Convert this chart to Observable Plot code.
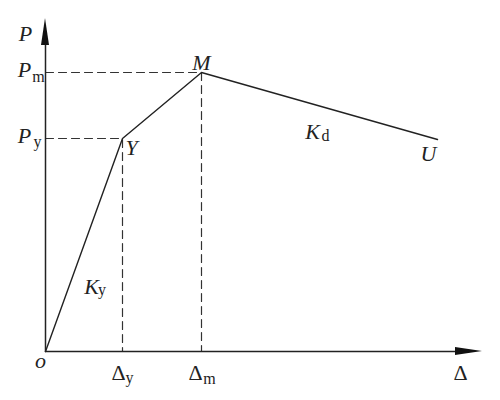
<!DOCTYPE html>
<html>
<head>
<meta charset="utf-8">
<script src="https://cdn.jsdelivr.net/npm/d3@7"></script>
<script src="https://cdn.jsdelivr.net/npm/@observablehq/plot@0.6"></script>
<style>
  body { margin: 0; background: #fff; }
  svg { font-family: "Liberation Serif", "DejaVu Serif", serif; }
</style>
</head>
<body>
<div id="chart"></div>
<script>
// Characteristic points of the trilinear skeleton curve (O, Y, M, U)
const pointNames = ["O", "Y", "M", "U"];
const displacement = [0, 77, 156, 392];
const load = [0, 213, 279, 212];
// Axis extents
const xAxisEnd = 437;
const yAxisEnd = 333;
// Arrow head size (data units)
const headLength = 27;
const headHalf = 4;

const pts = pointNames.map((n, i) => ({name: n, x: displacement[i], y: load[i]}));
const [O, Y, M, U] = pts;

const serif = "Liberation Serif";
const big = 22, small = 16;
const mainText = (d, txt, dx, dy, italic = true) =>
  Plot.text([d], {x: "x", y: "y", text: () => txt, dx, dy, fontSize: big,
    fontStyle: italic ? "italic" : "normal", fontFamily: serif, fill: "#222",
    textAnchor: "middle", lineAnchor: "middle"});
const subText = (d, txt, dx, dy) =>
  Plot.text([d], {x: "x", y: "y", text: () => txt, dx, dy, fontSize: small,
    fontFamily: serif, fill: "#222", textAnchor: "middle", lineAnchor: "middle"});

const mid = (a, b) => ({x: (a.x + b.x) / 2, y: (a.y + b.y) / 2});
const dash = "8,5";

const chart = Plot.plot({
  width: 500,
  height: 400,
  marginLeft: 45,
  marginRight: 18,
  marginTop: 18,
  marginBottom: 49,
  x: {domain: [0, xAxisEnd], axis: null},
  y: {domain: [0, yAxisEnd], axis: null},
  style: {background: "#fff", overflow: "visible"},
  marks: [
    // dashed guide lines
    Plot.line([{x: 0, y: Y.y}, Y, {x: Y.x, y: 0}], {x: "x", y: "y", stroke: "#333", strokeWidth: 1.2, strokeDasharray: dash}),
    Plot.line([{x: 0, y: M.y}, M, {x: M.x, y: 0}], {x: "x", y: "y", stroke: "#333", strokeWidth: 1.2, strokeDasharray: dash}),
    // axes
    Plot.line([{x: 0, y: 0}, {x: xAxisEnd - headLength / 2, y: 0}], {x: "x", y: "y", stroke: "#222", strokeWidth: 1.5}),
    Plot.line([{x: 0, y: 0}, {x: 0, y: yAxisEnd - headLength / 2}], {x: "x", y: "y", stroke: "#222", strokeWidth: 1.5}),
    // arrowheads
    Plot.areaY([{x: xAxisEnd - headLength, y1: -headHalf, y2: headHalf}, {x: xAxisEnd, y1: 0, y2: 0}],
      {x: "x", y1: "y1", y2: "y2", fill: "#111", curve: "linear"}),
    Plot.areaX([{y: yAxisEnd - headLength, x1: -headHalf, x2: headHalf}, {y: yAxisEnd, x1: 0, x2: 0}],
      {y: "y", x1: "x1", x2: "x2", fill: "#111", curve: "linear"}),
    // skeleton curve
    Plot.line(pts, {x: "x", y: "y", stroke: "#222", strokeWidth: 1.4}),
    // labels
    mainText({x: 0, y: yAxisEnd}, "P", -20, 15),
    mainText({x: 0, y: M.y}, "P", -21, -3), subText({x: 0, y: M.y}, "m", -7, 4),
    mainText({x: 0, y: Y.y}, "P", -21, -3), subText({x: 0, y: Y.y}, "y", -8, 3),
    mainText(M, "M", 0, -10),
    mainText(Y, "Y", 9, 9),
    mainText(U, "U", -9, 14),
    mainText(mid(M, U), "K", -7, 26), subText(mid(M, U), "d", 6, 30),
    mainText(mid(O, Y), "K", 7.5, 42), subText(mid(O, Y), "y", 18, 45),
    mainText(O, "o", -5, 9),
    mainText({x: Y.x, y: 0}, "Δ", -4, 21, false), subText({x: Y.x, y: 0}, "y", 7, 26),
    mainText({x: M.x, y: 0}, "Δ", -6, 21, false), subText({x: M.x, y: 0}, "m", 8, 27),
    mainText({x: xAxisEnd, y: 0}, "Δ", -22, 21, false)
  ]
});
document.getElementById("chart").appendChild(chart);
</script>
</body>
</html>
